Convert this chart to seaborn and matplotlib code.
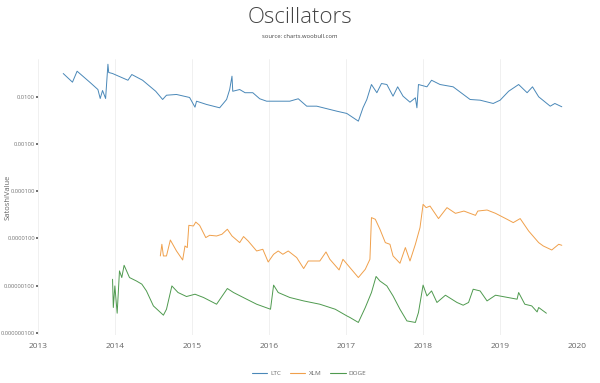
import matplotlib as mpl
import numpy as np
import pandas as pd
import seaborn as sns
import matplotlib.pyplot as plt
from matplotlib.ticker import FixedLocator, FixedFormatter, NullLocator

sns.set_style('white')
plt.rcParams['font.family'] = ['Open Sans', 'DejaVu Sans']

# values (x in decimal years, y in BTC)
ltc_year = [2013.33, 2013.45, 2013.51, 2013.68, 2013.78, 2013.81, 2013.84, 2013.88, 2013.91, 2013.92,
            2013.97, 2014.17, 2014.22, 2014.36, 2014.53, 2014.62, 2014.67, 2014.80, 2014.97, 2015.04,
            2015.06, 2015.19, 2015.36, 2015.45, 2015.49, 2015.52, 2015.53, 2015.62, 2015.69, 2015.79,
            2015.88, 2015.97, 2016.27, 2016.38, 2016.49, 2016.62, 2016.88, 2017.01, 2017.16, 2017.22,
            2017.27, 2017.33, 2017.40, 2017.46, 2017.53, 2017.61, 2017.67, 2017.74, 2017.83, 2017.90,
            2017.92, 2017.94, 2018.05, 2018.11, 2018.22, 2018.39, 2018.61, 2018.74, 2018.91, 2019.00,
            2019.11, 2019.24, 2019.35, 2019.42, 2019.50, 2019.65, 2019.71, 2019.80]
ltc_val = [0.0311, 0.0204, 0.0348, 0.0200, 0.01425, 0.0092, 0.0136, 0.0092, 0.0489, 0.0327,
           0.0311, 0.0224, 0.0296, 0.0224, 0.0131, 0.00877, 0.0108, 0.0112, 0.00967, 0.00603,
           0.00807, 0.00688, 0.00585, 0.00877, 0.01425, 0.0273, 0.0131, 0.01425, 0.0122, 0.0122,
           0.00908, 0.00807, 0.00807, 0.00908, 0.00633, 0.00633, 0.00496, 0.00444, 0.00305, 0.00585,
           0.00877, 0.0182, 0.0122, 0.0191, 0.0182, 0.0103, 0.01626, 0.0103, 0.00769, 0.00952,
           0.00585, 0.0182, 0.01626, 0.0224, 0.0182, 0.01626, 0.00877, 0.00848, 0.00722, 0.00848,
           0.0131, 0.0182, 0.0122, 0.01626, 0.0100, 0.00633, 0.00722, 0.00615]

xlm_year = [2014.59, 2014.61, 2014.63, 2014.67, 2014.72, 2014.80, 2014.88, 2014.91, 2014.94, 2014.96,
            2015.02, 2015.05, 2015.10, 2015.18, 2015.23, 2015.32, 2015.39, 2015.46, 2015.52, 2015.62,
            2015.67, 2015.73, 2015.84, 2015.92, 2015.99, 2016.06, 2016.12, 2016.18, 2016.25, 2016.36,
            2016.45, 2016.51, 2016.66, 2016.74, 2016.79, 2016.91, 2016.96, 2017.05, 2017.16, 2017.25,
            2017.31, 2017.33, 2017.38, 2017.44, 2017.51, 2017.57, 2017.61, 2017.70, 2017.77, 2017.83,
            2017.90, 2017.96, 2018.00, 2018.04, 2018.09, 2018.20, 2018.31, 2018.42, 2018.53, 2018.68,
            2018.71, 2018.83, 2018.94, 2019.09, 2019.17, 2019.26, 2019.37, 2019.50, 2019.56, 2019.67,
            2019.76, 2019.80]
xlm_val = [4.27e-6, 7.54e-6, 4.27e-6, 4.27e-6, 9.29e-6, 5.44e-6, 3.51e-6, 6.94e-6, 6.43e-6, 1.90e-5,
           1.84e-5, 2.23e-5, 1.90e-5, 1.045e-5, 1.17e-5, 1.13e-5, 1.23e-5, 1.57e-5, 1.13e-5, 8.18e-6,
           1.10e-5, 8.85e-6, 5.44e-6, 5.91e-6, 3.18e-6, 4.63e-6, 5.44e-6, 4.63e-6, 5.44e-6, 3.94e-6,
           2.31e-6, 3.34e-6, 3.34e-6, 5.19e-6, 3.63e-6, 2.16e-6, 3.63e-6, 2.43e-6, 1.49e-6, 2.23e-6,
           3.63e-6, 2.77e-5, 2.55e-5, 1.57e-5, 8.18e-6, 7.54e-6, 4.27e-6, 2.99e-6, 6.43e-6, 3.34e-6,
           7.54e-6, 1.70e-5, 5.28e-5, 4.50e-5, 4.86e-5, 2.64e-5, 4.50e-5, 3.41e-5, 3.81e-5, 3.09e-5,
           3.81e-5, 4.01e-5, 3.41e-5, 2.55e-5, 2.17e-5, 2.64e-5, 1.44e-5, 8.18e-6, 6.94e-6, 5.71e-6,
           7.54e-6, 7.18e-6]

doge_year = [2013.97, 2013.98, 2014.00, 2014.03, 2014.06, 2014.09, 2014.12, 2014.19, 2014.28, 2014.35,
             2014.41, 2014.50, 2014.63, 2014.67, 2014.74, 2014.82, 2014.93, 2015.04, 2015.15, 2015.32,
             2015.46, 2015.54, 2015.71, 2015.84, 2016.02, 2016.06, 2016.12, 2016.27, 2016.45, 2016.66,
             2016.86, 2017.01, 2017.05, 2017.16, 2017.25, 2017.33, 2017.39, 2017.44, 2017.53, 2017.61,
             2017.70, 2017.79, 2017.90, 2017.94, 2018.00, 2018.05, 2018.11, 2018.18, 2018.29, 2018.44,
             2018.52, 2018.59, 2018.65, 2018.74, 2018.83, 2018.94, 2019.22, 2019.24, 2019.32, 2019.41,
             2019.48, 2019.50, 2019.60]
doge_val = [1.37e-6, 3.46e-7, 9.9e-7, 2.62e-7, 2.06e-6, 1.49e-6, 2.71e-6, 1.49e-6, 1.26e-6, 1.08e-6,
            7.76e-7, 3.74e-7, 2.38e-7, 3.18e-7, 9.9e-7, 7.18e-7, 5.91e-7, 6.61e-7, 5.64e-7, 4.06e-7,
            8.73e-7, 7.18e-7, 5.19e-7, 4.06e-7, 3.18e-7, 1.03e-6, 7.18e-7, 5.64e-7, 4.77e-7, 4.06e-7,
            3.18e-7, 2.30e-7, 2.13e-7, 1.67e-7, 3.46e-7, 7.18e-7, 1.57e-6, 1.26e-6, 9.9e-7, 6.08e-7,
            3.18e-7, 1.80e-7, 1.67e-7, 2.71e-7, 1.03e-6, 6.08e-7, 7.76e-7, 4.42e-7, 6.30e-7, 4.42e-7,
            3.87e-7, 4.42e-7, 8.43e-7, 7.76e-7, 4.77e-7, 6.30e-7, 5.19e-7, 7.18e-7, 4.06e-7, 3.74e-7,
            2.79e-7, 3.46e-7, 2.62e-7]

coins = ['LTC', 'XLM', 'DOGE']
colors = {'LTC': '#4a88b8', 'XLM': '#f0a04b', 'DOGE': '#4f9a4f'}
year_ticks = [2013, 2014, 2015, 2016, 2017, 2018, 2019, 2020]
y_ticks = [1e-2, 1e-3, 1e-4, 1e-5, 1e-6, 1e-7]
y_labels = ['0.0100', '0.00100', '0.000100', '0.0000100', '0.00000100', '0.000000100']

df = pd.concat([
    pd.DataFrame({'year': ltc_year, 'value': ltc_val, 'coin': 'LTC'}),
    pd.DataFrame({'year': xlm_year, 'value': xlm_val, 'coin': 'XLM'}),
    pd.DataFrame({'year': doge_year, 'value': doge_val, 'coin': 'DOGE'}),
])

fig = plt.figure(figsize=(6, 3.83), dpi=100)
ax = fig.add_axes([0.063, 0.125, 0.899, 0.72])

sns.lineplot(data=df, x='year', y='value', hue='coin', hue_order=coins,
             palette=colors, linewidth=0.7, sort=False, estimator=None, ax=ax)

ax.set_yscale('log')
ax.set_ylim(9e-8, 0.062)
ax.set_xlim(2013, 2020)
ax.yaxis.set_major_locator(FixedLocator(y_ticks))
ax.yaxis.set_major_formatter(FixedFormatter(y_labels))
ax.yaxis.set_minor_locator(NullLocator())
ax.set_xticks(year_ticks)
ax.set_xticklabels([str(y) for y in year_ticks])

ax.grid(axis='x', color='#eeeeee', linewidth=0.6)
ax.grid(axis='y', visible=False)
sns.despine(ax=ax, left=True, bottom=True)
ax.tick_params(axis='y', labelsize=4.2, labelcolor='#777777', length=1.5, width=1.2,
               color='#555555', pad=0.5, direction='out', left=True)
ax.tick_params(axis='x', labelsize=6, labelcolor='#666666', length=0, pad=6)
ax.set_xlabel('')
ax.set_ylabel('SatoshiValue', fontsize=5.5, color='#666666')
ax.yaxis.set_label_coords(-0.048, 0.5)

fig.text(0.5, 0.955, 'Oscillators', ha='center', va='center', fontsize=16,
         color='#444444', fontweight='light')
fig.text(0.5, 0.905, 'source: charts.woobull.com', ha='center', va='center',
         fontsize=4.2, color='#444444')

handles, labels = ax.get_legend_handles_labels()
ax.legend(handles, labels, loc='center', bbox_to_anchor=(0.515, 0.026),
          bbox_transform=fig.transFigure, ncol=3, frameon=False, fontsize=4.6,
          handlelength=2.4, handletextpad=0.5, columnspacing=1.4, labelcolor='#666666')
for line in ax.get_legend().get_lines():
    line.set_linewidth(0.8)

plt.savefig('out.png', dpi=100, facecolor='w')
